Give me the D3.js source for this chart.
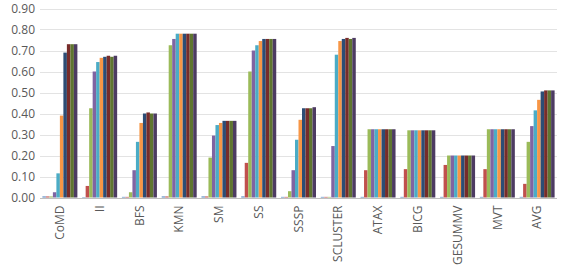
<!DOCTYPE html>
<html>
<head>
<meta charset="utf-8">
<script src="https://cdn.jsdelivr.net/npm/d3@7"></script>
<style>
  body { margin: 0; background: #fff; }
  text { font-family: "Open Sans", "Liberation Sans", sans-serif; fill: #595959; }
</style>
</head>
<body>
<svg width="561" height="270"></svg>
<script>
var CATEGORIES = ['CoMD','II','BFS','KMN','SM','SS','SSSP','SCLUSTER','ATAX','BICG','GESUMMV','MVT','AVG'];
var Y_TICKS = [0,0.1,0.2,0.3,0.4,0.5,0.6,0.7,0.8,0.9];
var COLORS = ['#4F81BD','#C0504D','#9BBB59','#8064A2','#4BACC6','#F79646','#2C4D75','#772C2A','#5F7530','#4D3B62'];

// one row per series, one value per category
var S1  = [0.005,0.002,0.003,0.005,0.005,0.005,0.003,0.003,0.003,0.003,0.003,0.003,0.003];
var S2  = [0.005,0.055,0.003,0.005,0.005,0.165,0.003,0.003,0.130,0.135,0.155,0.135,0.065];
var S3  = [0.005,0.425,0.025,0.725,0.190,0.600,0.030,0.003,0.325,0.320,0.200,0.325,0.265];
var S4  = [0.025,0.600,0.130,0.755,0.295,0.700,0.130,0.245,0.325,0.320,0.200,0.325,0.340];
var S5  = [0.115,0.645,0.265,0.780,0.345,0.725,0.275,0.680,0.325,0.320,0.200,0.325,0.415];
var S6  = [0.390,0.665,0.355,0.780,0.355,0.745,0.370,0.745,0.325,0.320,0.200,0.325,0.465];
var S7  = [0.690,0.670,0.400,0.780,0.365,0.755,0.425,0.755,0.325,0.320,0.200,0.325,0.505];
var S8  = [0.730,0.675,0.405,0.780,0.365,0.755,0.425,0.760,0.325,0.320,0.200,0.325,0.510];
var S9  = [0.730,0.670,0.400,0.780,0.365,0.755,0.425,0.755,0.325,0.320,0.200,0.325,0.510];
var S10 = [0.730,0.675,0.400,0.780,0.365,0.755,0.430,0.760,0.325,0.320,0.200,0.325,0.510];
var SERIES = [S1,S2,S3,S4,S5,S6,S7,S8,S9,S10];

var svg = d3.select('svg');
var margin = {left: 40, right: 4, top: 8.5, bottom: 72.5};
var W = 561, H = 270;

var x = d3.scaleBand().domain(CATEGORIES).range([margin.left, W - margin.right]).paddingInner(0.12).paddingOuter(0.06);
var xs = d3.scaleBand().domain(d3.range(SERIES.length)).range([0, x.bandwidth()]);
var y = d3.scaleLinear().domain([0, 0.9]).range([H - margin.bottom, margin.top]);

// gridlines
svg.append('g').selectAll('line').data(Y_TICKS).enter().append('line')
  .attr('x1', margin.left).attr('x2', W - margin.right)
  .attr('y1', function(d){ return Math.round(y(d)) + 0.5; })
  .attr('y2', function(d){ return Math.round(y(d)) + 0.5; })
  .attr('stroke', function(d){ return d === 0 ? '#bfbfbf' : '#e3e3e3'; })
  .attr('stroke-width', 1);

// y labels
var yAxis = svg.append('g').attr('transform', 'translate(' + (margin.left - 5) + ',0)')
  .call(d3.axisLeft(y).tickValues(Y_TICKS).tickFormat(d3.format('.2f')).tickSize(0));
yAxis.select('.domain').remove();
yAxis.selectAll('text').attr('x', 0).style('font-size', '12px').style('fill', '#595959')
  .style('font-family', '"Open Sans", sans-serif');

// bars
var groups = svg.append('g').selectAll('g').data(CATEGORIES).enter().append('g')
  .attr('transform', function(d){ return 'translate(' + x(d) + ',0)'; });

groups.selectAll('rect').data(function(c, ci){
    return SERIES.map(function(s, si){ return {si: si, v: s[ci]}; });
  }).enter().append('rect')
  .attr('x', function(d){ return xs(d.si); })
  .attr('width', xs.bandwidth())
  .attr('y', function(d){ return y(d.v); })
  .attr('height', function(d){ return y(0) - y(d.v); })
  .attr('fill', function(d){ return COLORS[d.si]; });

// x labels, rotated
var xAxis = svg.append('g').attr('transform', 'translate(0,' + (y(0) + 8) + ')')
  .call(d3.axisBottom(x).tickSize(0));
xAxis.select('.domain').remove();
xAxis.selectAll('text')
  .attr('transform', 'rotate(-90)')
  .attr('x', 0).attr('y', 0).attr('dy', '0.35em')
  .style('text-anchor', 'end')
  .style('font-size', '12px').style('fill', '#595959')
  .style('font-family', '"Open Sans", sans-serif');
</script>
</body>
</html>
